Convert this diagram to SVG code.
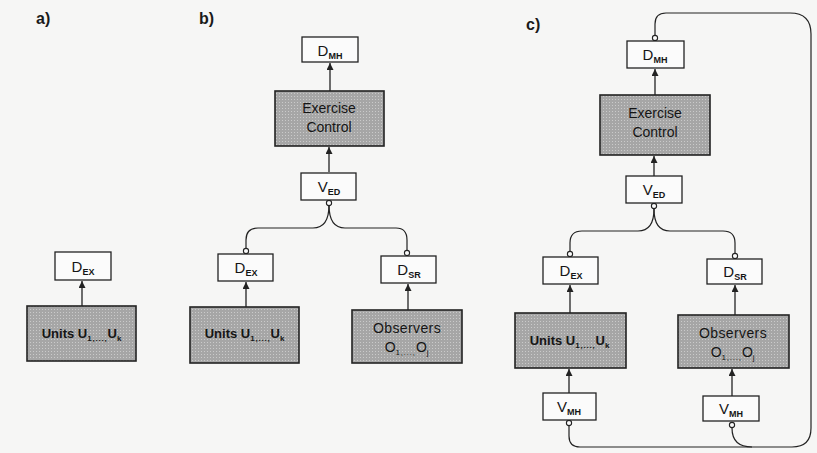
<svg xmlns="http://www.w3.org/2000/svg" width="817" height="453" viewBox="0 0 817 453">
<style>
  .bg { fill: #f6f6f5; }
  .lbl { font-family: "Liberation Sans", Arial, sans-serif; font-size: 16px; font-weight: bold; fill: #1a1a1a; }
  .dbox { fill: #fbfbfb; stroke: #222; stroke-width: 1.3; }
  .gbox { fill: url(#halftone); stroke: #222; stroke-width: 1.6; }
  .dt { font-family: "Liberation Sans", Arial, sans-serif; font-size: 15px; fill: #151515; text-anchor: middle; }
  .sub { font-size: 9px; font-weight: bold; }
  .gt { font-family: "Liberation Sans", Arial, sans-serif; font-size: 14px; fill: #151515; text-anchor: middle; }
  .ut { font-family: "Liberation Sans", Arial, sans-serif; font-size: 13px; font-weight: bold; fill: #151515; text-anchor: middle; }
  .gsub { font-size: 8px; letter-spacing: 0.8px; }
  .arr { fill: none; stroke: #222; stroke-width: 1.3; marker-end: url(#ah); }
  .wire { fill: none; stroke: #222; stroke-width: 1.2; }
  .dot { fill: #fbfbfb; stroke: #222; stroke-width: 1.1; }
</style>
<defs>
  <pattern id="halftone" width="3" height="3" patternUnits="userSpaceOnUse">
    <rect width="3" height="3" fill="#a6a6a6"/>
    <rect width="1" height="1" fill="#cacaca"/>
  </pattern>
  <marker id="ah" viewBox="0 0 10 10" refX="10" refY="5" markerWidth="10" markerHeight="7" markerUnits="userSpaceOnUse" orient="auto">
    <path d="M0,0 L10,5 L0,10 z" fill="#222"/>
  </marker>
</defs>
<rect class="bg" x="0" y="0" width="817" height="453"/>

<text class="lbl" x="36" y="24">a)</text>
<text class="lbl" x="199" y="24">b)</text>
<text class="lbl" x="526" y="30">c)</text>

<g id="connectors">
  <!-- a -->
  <path class="arr" d="M82,306 L82,281"/>
  <!-- b -->
  <path class="arr" d="M330,91 L330,63"/>
  <path class="arr" d="M329,172 L329,147"/>
  <path class="arr" d="M246,307 L246,282"/>
  <path class="arr" d="M408,310 L408,284"/>
  <path class="wire" d="M329,205 Q329,228 313,228 L258,228 Q246,228 246,240 L246,248"/>
  <path class="wire" d="M329,205 Q329,228 345,228 L396,228 Q407,228 407,240 L407,250"/>
  <!-- c -->
  <path class="arr" d="M655,95 L655,69"/>
  <path class="arr" d="M654,176 L654,156"/>
  <path class="arr" d="M570,313 L570,285"/>
  <path class="arr" d="M735,315 L735,285"/>
  <path class="arr" d="M569,393 L569,369"/>
  <path class="arr" d="M732,396 L732,369"/>
  <path class="wire" d="M654,209 Q654,231 638,231 L582,231 Q570,231 570,243 L570,251"/>
  <path class="wire" d="M654,209 Q654,231 670,231 L723,231 Q735,231 735,243 L735,253"/>
  <path class="wire" d="M569,426 L569,436 Q569,447 580,447 L792,447 Q811,447 811,428 L811,34 Q811,13 790,13 L666,13 Q655,13 655,24 L655,35"/>
  <path class="wire" d="M732,428 Q732,447 752,447"/>
  <!-- port circles -->
  <circle class="dot" cx="329" cy="203" r="2.6"/>
  <circle class="dot" cx="246" cy="251" r="2.6"/>
  <circle class="dot" cx="407" cy="253" r="2.6"/>
  <circle class="dot" cx="654" cy="206" r="2.6"/>
  <circle class="dot" cx="570" cy="254" r="2.6"/>
  <circle class="dot" cx="735" cy="256" r="2.6"/>
  <circle class="dot" cx="655" cy="38" r="2.6"/>
  <circle class="dot" cx="569" cy="423" r="2.6"/>
  <circle class="dot" cx="732" cy="425" r="2.6"/>
</g>

<!-- a) -->
<g id="a-dex">
  <rect class="dbox" x="55" y="252" width="56" height="28"/>
  <text class="dt" x="83" y="272">D<tspan class="sub" dy="3">EX</tspan></text>
</g>
<g id="a-units">
  <rect class="gbox" x="27" y="306" width="109" height="55"/>
  <text class="ut" x="82" y="338">Units U<tspan class="gsub" dy="3">1</tspan><tspan class="gsub">,...,</tspan><tspan dy="-3">U</tspan><tspan class="gsub" dy="3">k</tspan></text>
</g>

<!-- b) -->
<g id="b-dmh">
  <rect class="dbox" x="302" y="37" width="56" height="25"/>
  <text class="dt" x="330" y="56">D<tspan class="sub" dy="3">MH</tspan></text>
</g>
<g id="b-exercise">
  <rect class="gbox" x="275" y="91" width="109" height="55"/>
  <text class="gt" x="329" y="113">Exercise</text>
  <text class="gt" x="329" y="132">Control</text>
</g>
<g id="b-ved">
  <rect class="dbox" x="301" y="173" width="55" height="27"/>
  <text class="dt" x="329" y="192">V<tspan class="sub" dy="3">ED</tspan></text>
</g>
<g id="b-dex">
  <rect class="dbox" x="218" y="254" width="55" height="27"/>
  <text class="dt" x="246" y="273">D<tspan class="sub" dy="3">EX</tspan></text>
</g>
<g id="b-dsr">
  <rect class="dbox" x="381" y="256" width="55" height="27"/>
  <text class="dt" x="409" y="275">D<tspan class="sub" dy="3">SR</tspan></text>
</g>
<g id="b-units">
  <rect class="gbox" x="190" y="307" width="109" height="56"/>
  <text class="ut" x="245" y="338">Units U<tspan class="gsub" dy="3">1</tspan><tspan class="gsub">,...,</tspan><tspan dy="-3">U</tspan><tspan class="gsub" dy="3">k</tspan></text>
</g>
<g id="b-observers">
  <rect class="gbox" x="352" y="310" width="110" height="53"/>
  <text class="gt" x="407" y="333" style="letter-spacing:0.4px">Observers</text>
  <text class="gt" x="407" y="352">O<tspan class="gsub" dy="3">1</tspan><tspan class="gsub">,...,</tspan><tspan dy="-3">O</tspan><tspan class="gsub" dy="3">j</tspan></text>
</g>

<!-- c) -->
<g id="c-dmh">
  <rect class="dbox" x="627" y="41" width="57" height="27"/>
  <text class="dt" x="655" y="60">D<tspan class="sub" dy="3">MH</tspan></text>
</g>
<g id="c-exercise">
  <rect class="gbox" x="600" y="95" width="110" height="60"/>
  <text class="gt" x="655" y="118">Exercise</text>
  <text class="gt" x="655" y="137">Control</text>
</g>
<g id="c-ved">
  <rect class="dbox" x="626" y="176" width="56" height="27"/>
  <text class="dt" x="654" y="195">V<tspan class="sub" dy="3">ED</tspan></text>
</g>
<g id="c-dex">
  <rect class="dbox" x="543" y="257" width="55" height="27"/>
  <text class="dt" x="571" y="276">D<tspan class="sub" dy="3">EX</tspan></text>
</g>
<g id="c-dsr">
  <rect class="dbox" x="707" y="259" width="55" height="25"/>
  <text class="dt" x="735" y="277">D<tspan class="sub" dy="3">SR</tspan></text>
</g>
<g id="c-units">
  <rect class="gbox" x="515" y="313" width="111" height="55"/>
  <text class="ut" x="570" y="345">Units U<tspan class="gsub" dy="3">1</tspan><tspan class="gsub">,...,</tspan><tspan dy="-3">U</tspan><tspan class="gsub" dy="3">k</tspan></text>
</g>
<g id="c-observers">
  <rect class="gbox" x="678" y="315" width="111" height="53"/>
  <text class="gt" x="733" y="338" style="letter-spacing:0.4px">Observers</text>
  <text class="gt" x="733" y="357">O<tspan class="gsub" dy="3">1</tspan><tspan class="gsub">,...,</tspan><tspan dy="-3">O</tspan><tspan class="gsub" dy="3">j</tspan></text>
</g>
<g id="c-vmh-left">
  <rect class="dbox" x="543" y="393" width="53" height="27"/>
  <text class="dt" x="569" y="412">V<tspan class="sub" dy="3">MH</tspan></text>
</g>
<g id="c-vmh-right">
  <rect class="dbox" x="703" y="396" width="56" height="25"/>
  <text class="dt" x="731" y="414">V<tspan class="sub" dy="3">MH</tspan></text>
</g>
</svg>
